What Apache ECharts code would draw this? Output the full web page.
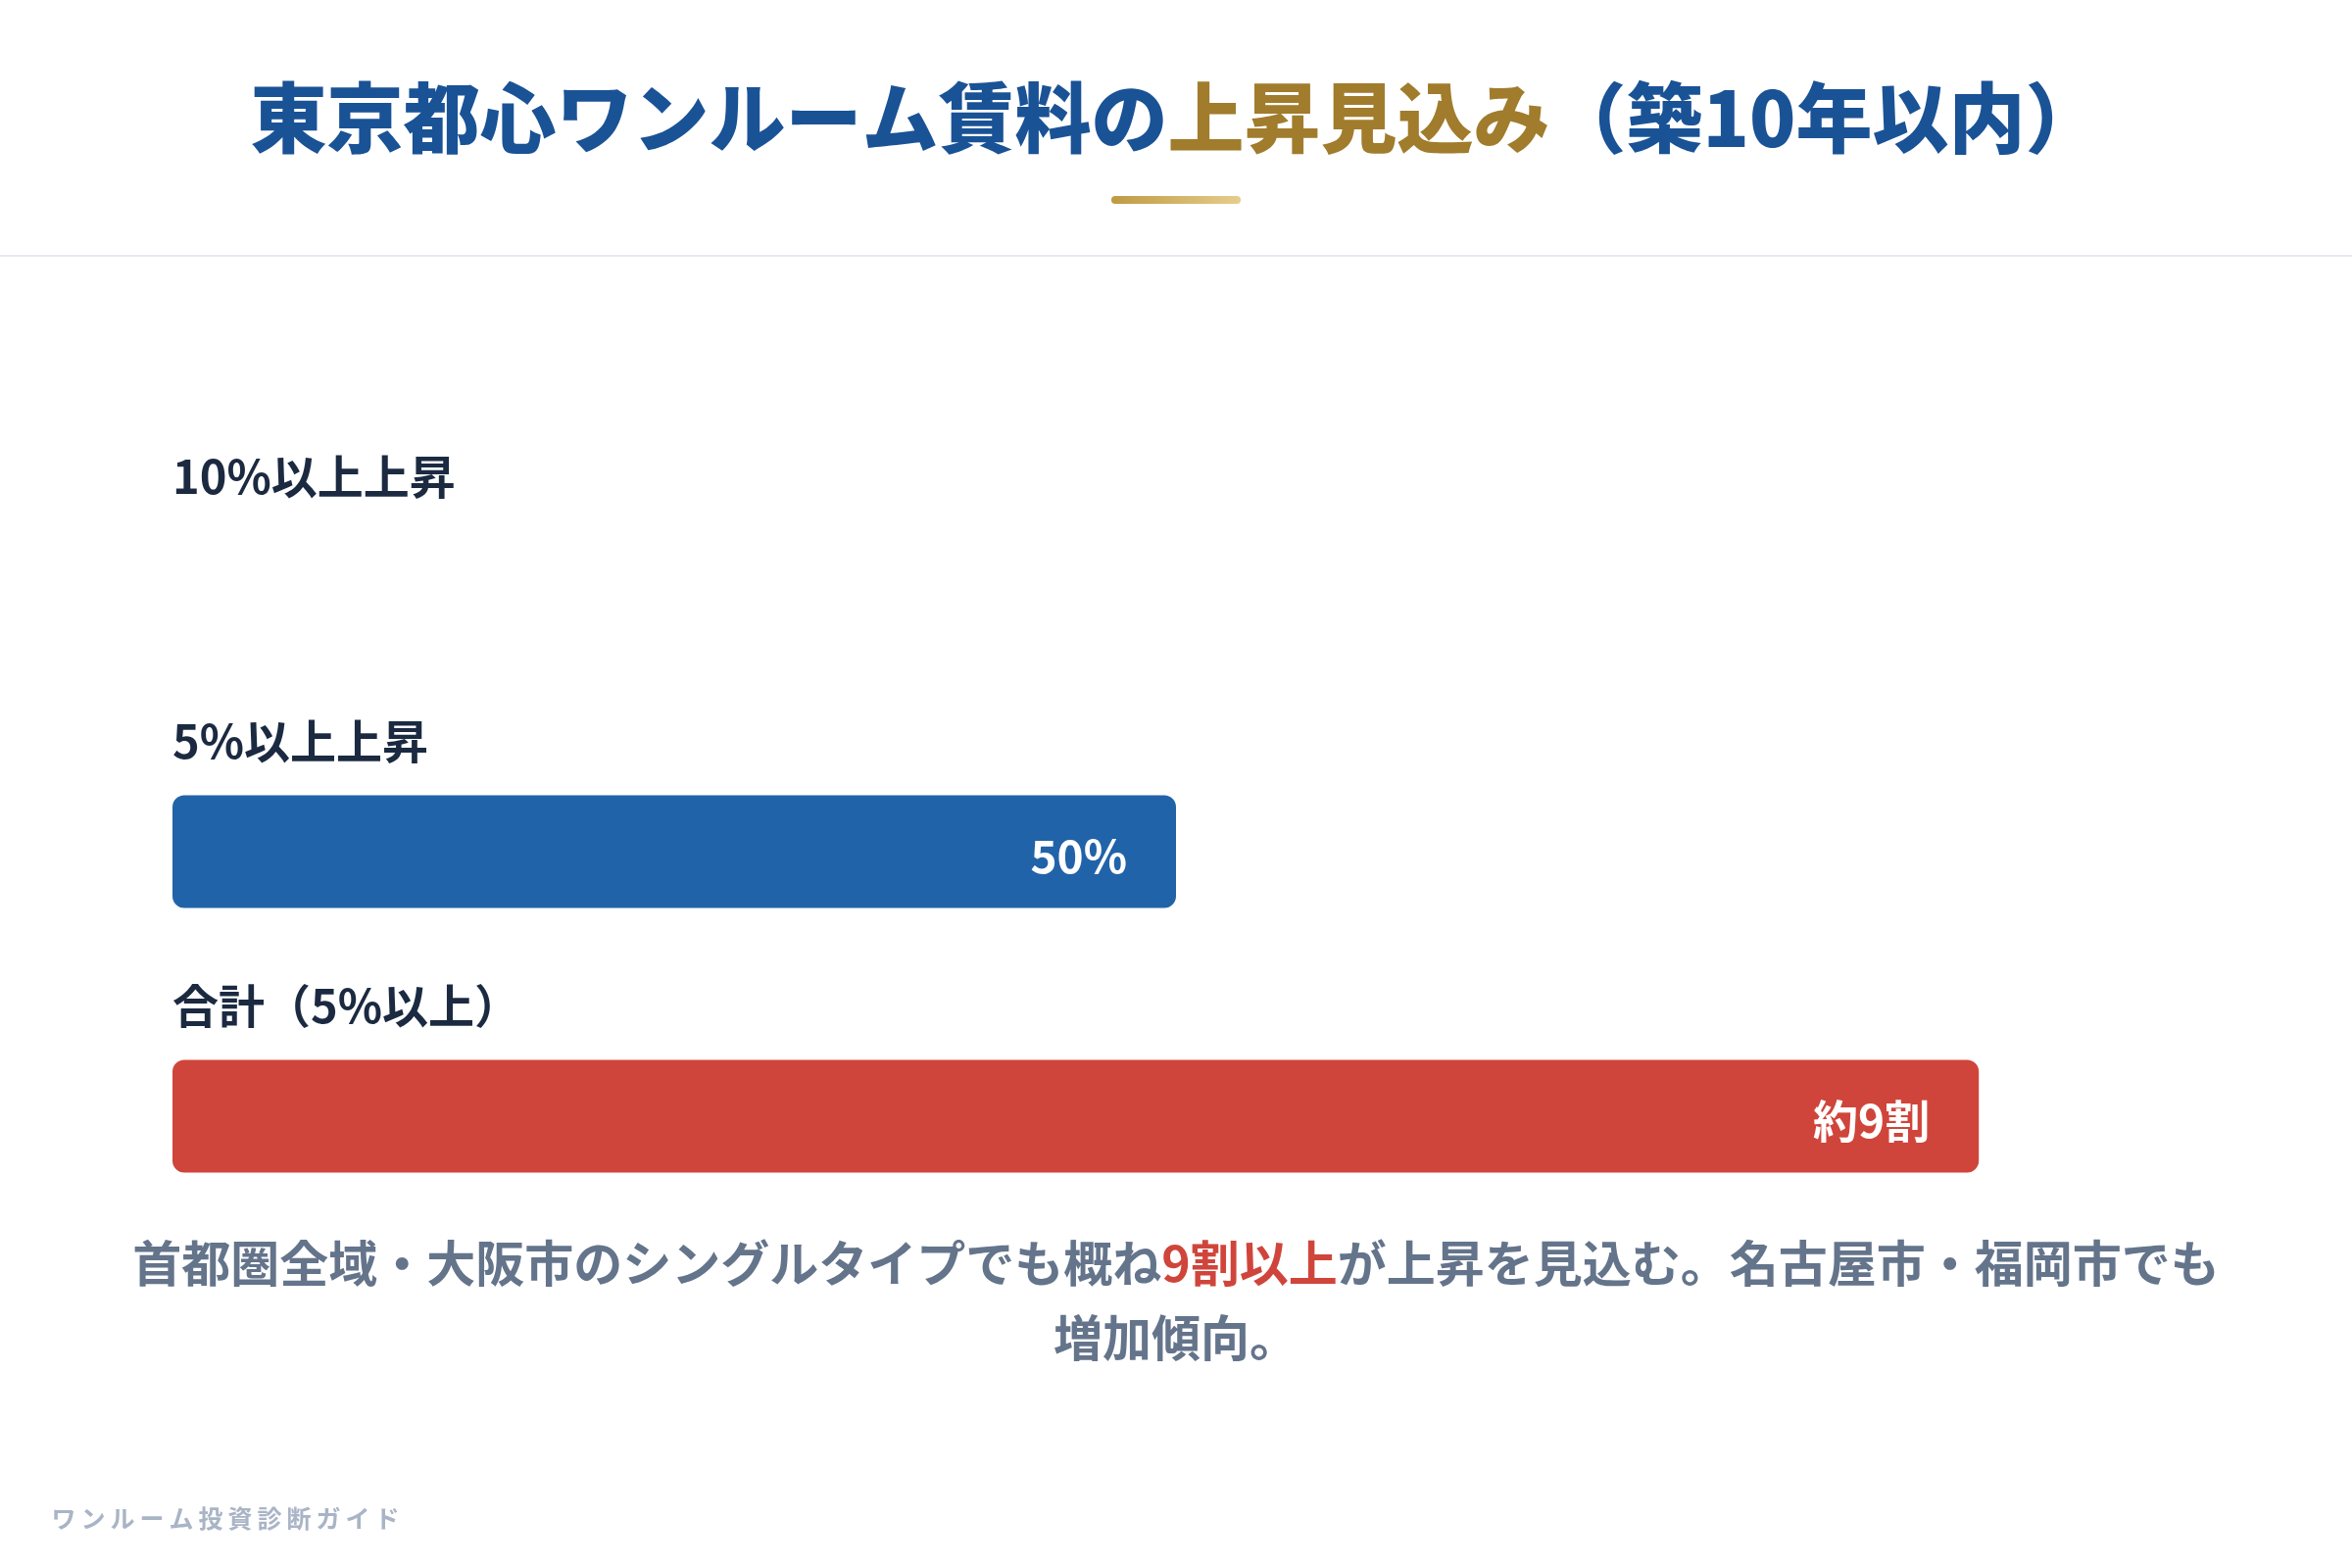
<!DOCTYPE html>
<html>
<head>
<meta charset="utf-8">
<style>
html,body{margin:0;padding:0;background:#ffffff;}
#chart{width:2400px;height:1600px;}
</style>
<script src="https://cdn.jsdelivr.net/npm/echarts@6/dist/echarts.min.js"></script>
</head>
<body>
<div id="chart"></div>
<script>
// ---- data ----
const categories = ['10%以上上昇', '5%以上上昇', '合計（5%以上）'];
const values = [null, 50, 90];
const valueLabels = ['', '50%', '約9割'];
const barColors = ['#2163a8', '#2163a8', '#d0453b'];
const footerText = 'ワンルーム投資診断ガイド';

const FONT = '"Noto Sans CJK JP", "Noto Sans", sans-serif';

const chart = echarts.init(document.getElementById('chart'), null, {renderer: 'canvas'});

const option = {
  backgroundColor: '#ffffff',
  animation: false,
  grid: {left: 176, right: 176, top: 464, height: 810, containLabel: false},
  xAxis: {
    type: 'value', min: 0, max: 100,
    show: false, splitLine: {show: false}
  },
  yAxis: {
    type: 'category',
    data: categories,
    inverse: true,
    axisLine: {show: false},
    axisTick: {show: false},
    splitLine: {show: false},
    axisLabel: {
      inside: true,
      interval: 0,
      margin: 0,
      align: 'left',
      verticalAlign: 'middle',
      formatter: v => '{t|' + v + '}\n{s| }',
      rich: {
        t: {color: '#1b2a41', fontFamily: FONT, fontWeight: 'bold', fontSize: 47, lineHeight: 46},
        s: {fontSize: 10, lineHeight: 226}
      }
    }
  },
  series: [{
    type: 'bar',
    barWidth: 115,
    data: values.map((v, i) => ({
      value: v,
      itemStyle: {color: barColors[i], borderRadius: 12}
    })),
    label: {
      show: true,
      position: 'insideRight',
      distance: 50,
      offset: [0, 5],
      color: '#ffffff',
      fontFamily: FONT,
      fontWeight: 'bold',
      fontSize: 46,
      formatter: p => valueLabels[p.dataIndex]
    }
  }],
  graphic: [
    {
      type: 'text',
      style: {
        x: 1200, y: 120,
        text: '{b|東京都心ワンルーム賃料の}{g|上昇見込み}{b|（築10年以内）}',
        textAlign: 'center',
        textVerticalAlign: 'middle',
        rich: {
          b: {fontFamily: FONT, fontWeight: 900, fontSize: 78, fill: '#1a5296', color: '#1a5296'},
          g: {fontFamily: FONT, fontWeight: 900, fontSize: 78, fill: '#a07c2c', color: '#a07c2c'}
        }
      }
    },
    {
      type: 'rect',
      shape: {x: 1134, y: 200, width: 132, height: 8, r: 4},
      style: {
        fill: new echarts.graphic.LinearGradient(0, 0, 1, 0, [
          {offset: 0, color: '#bf9a42'},
          {offset: 1, color: '#e6cd8d'}
        ])
      }
    },
    {
      type: 'line',
      shape: {x1: 0, y1: 261, x2: 2400, y2: 261},
      style: {stroke: '#e6eaef', lineWidth: 2}
    },
    {
      type: 'text',
      style: {
        x: 1200, y: 1327,
        text: '{a|首都圏全域・大阪市のシングルタイプでも概ね}{r|9割以上}{a|が上昇を見込む。名古屋市・福岡市でも}\n{a|増加傾向。}',
        textAlign: 'center',
        textVerticalAlign: 'middle',
        rich: {
          a: {fontFamily: FONT, fontWeight: 'bold', fontSize: 50, lineHeight: 76, fill: '#64748b', color: '#64748b'},
          r: {fontFamily: FONT, fontWeight: 'bold', fontSize: 50, lineHeight: 76, fill: '#d0453b', color: '#d0453b'}
        }
      }
    },
    {
      type: 'text',
      style: {
        x: 50, y: 1549,
        text: footerText.split('').map(c => '{c|' + c + '}').join(''),
        textAlign: 'left',
        textVerticalAlign: 'middle',
        rich: {
          c: {fontFamily: FONT, fontWeight: 'bold', fontSize: 25, padding: [0, 2.5, 0, 2.5], fill: '#a9b4c6', color: '#a9b4c6'}
        }
      }
    }
  ]
};
chart.setOption(option);
</script>
</body>
</html>
